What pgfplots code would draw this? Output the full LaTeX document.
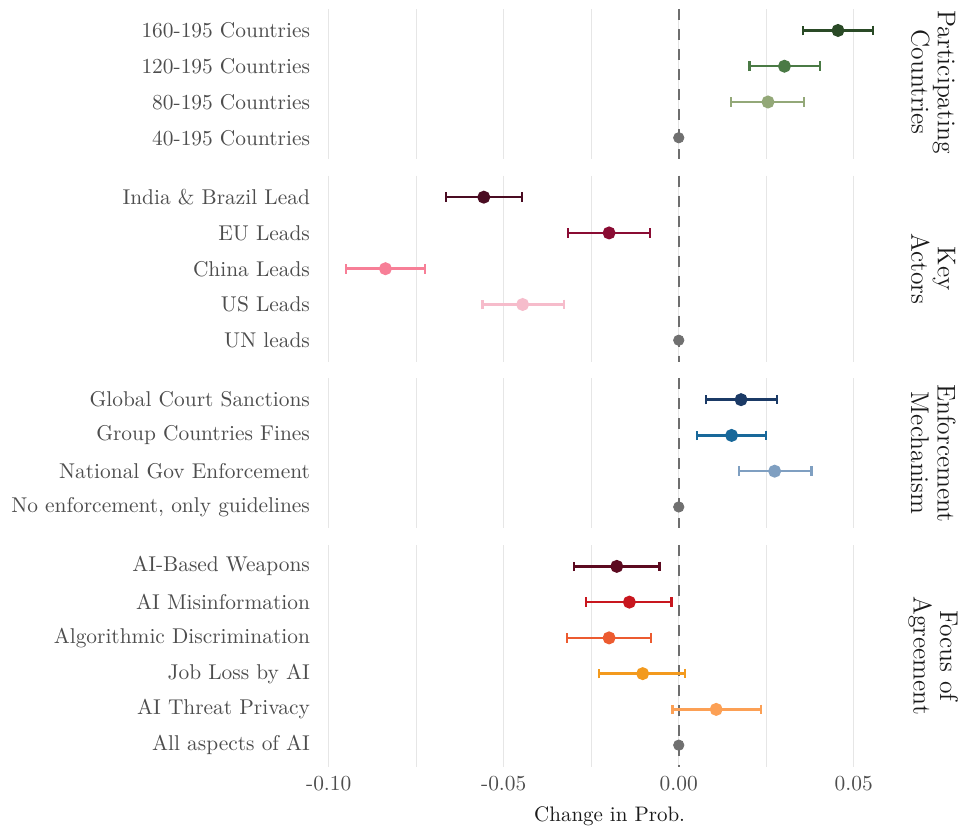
\documentclass[border=0pt]{standalone}
\usepackage{pgfplots}
\pgfplotsset{compat=1.18}
\definecolor{gridc}{HTML}{E6E6E6}
\definecolor{labc}{HTML}{4D4D4D}
\definecolor{stripc}{HTML}{1A1A1A}
\definecolor{refc}{HTML}{707070}
\definecolor{zeroc}{HTML}{6E6E6E}
\definecolor{ga}{HTML}{2A4A26}
\definecolor{gb}{HTML}{4A7A45}
\definecolor{gc}{HTML}{93A878}
\definecolor{ra}{HTML}{4A0C22}
\definecolor{rb}{HTML}{8A0C33}
\definecolor{rc}{HTML}{F77F97}
\definecolor{rd}{HTML}{F6BCCB}
\definecolor{ba}{HTML}{1B3A66}
\definecolor{bb}{HTML}{18689A}
\definecolor{bc}{HTML}{7F9FC1}
\definecolor{oa}{HTML}{5C0A20}
\definecolor{ob}{HTML}{C8161E}
\definecolor{oc}{HTML}{EC5B30}
\definecolor{od}{HTML}{F39A1E}
\definecolor{oe}{HTML}{FCA055}
\tikzset{strip/.style={rotate=-90, align=center, font=\fontsize{12.8}{13.2}\selectfont, text=stripc}}
\pgfplotsset{
  panel/.style={
    scale only axis, width=289.625pt, xmin=-0.1025, xmax=0.063,
    y dir=reverse, axis line style={draw=none},
    major tick length=0pt, minor tick length=0pt,
    xtick={-0.1,-0.05,0,0.05}, minor xtick={-0.075,-0.025,0.025},
    xmajorgrids, xminorgrids,
    major grid style={color=gridc, line width=0.7pt},
    minor grid style={color=gridc, line width=0.7pt},
    xticklabels={},
    yticklabel style={font=\fontsize{10.7}{12}\selectfont, text=labc, xshift=-1.5pt},
    clip=false, anchor=north west,
  },
  pt/.style={color=#1, mark=*, mark size=2.6pt, line width=1.25pt,
    error bars/.cd, x dir=both, x explicit, error mark=|,
    error bar style={line width=1.25pt, color=#1},
    error mark options={mark size=2.4pt, line width=1.1pt, color=#1}},
  refpt/.style={color=refc, mark=*, mark size=2.6pt, only marks},
  zeroline/.style={color=zeroc, line width=1.2pt, dash pattern=on 5.5pt off 4.5pt, forget plot},
}
\begin{document}
\begin{tikzpicture}
\useasboundingbox (0pt,0pt) rectangle (479.5pt,-413pt);
% Panel 1
\begin{axis}[panel, at={(160pt,-4.5pt)}, height=75.1pt, ymin=0.4, ymax=4.6,
  ytick={1,2,3,4},
  yticklabels={160-195 Countries,120-195 Countries,80-195 Countries,40-195 Countries}]
\addplot[zeroline] coordinates {(0,0.4) (0,4.6)};
\addplot[pt=ga] coordinates {(0.0455,1) += (0.0100,0) -= (0.0099,0)};
\addplot[pt=gb] coordinates {(0.0302,2) += (0.0101,0) -= (0.0100,0)};
\addplot[pt=gc] coordinates {(0.0255,3) += (0.0103,0) -= (0.0106,0)};
\addplot[refpt] coordinates {(0,4)};
\node[strip] at ([xshift=17pt,yshift=1pt]rel axis cs:1,0.5) {Participating\\Countries};
\end{axis}
% Panel 2
\begin{axis}[panel, at={(160pt,-87.85pt)}, height=93.0pt, ymin=0.4, ymax=5.6,
  ytick={1,2,3,4,5},
  yticklabels={India \& Brazil Lead,EU Leads,China Leads,US Leads,UN leads}]
\addplot[zeroline] coordinates {(0,0.4) (0,5.6)};
\addplot[pt=ra] coordinates {(-0.0557,1) += (0.0109,0) -= (0.0108,0)};
\addplot[pt=rb] coordinates {(-0.0199,2) += (0.0116,0) -= (0.0118,0)};
\addplot[pt=rc] coordinates {(-0.0838,3) += (0.0112,0) -= (0.0112,0)};
\addplot[pt=rd] coordinates {(-0.0446,4) += (0.0118,0) -= (0.0115,0)};
\addplot[refpt] coordinates {(0,5)};
\node[strip] at ([xshift=17pt]rel axis cs:1,0.5) {Key\\Actors};
\end{axis}
% Panel 3
\begin{axis}[panel, at={(160pt,-189.1pt)}, height=75.1pt, ymin=0.4, ymax=4.6,
  ytick={1,2,3,4},
  yticklabels={Global Court Sanctions,Group Countries Fines,National Gov Enforcement,{No enforcement, only guidelines}}]
\addplot[zeroline] coordinates {(0,0.4) (0,4.6)};
\addplot[pt=ba] coordinates {(0.0178,1) += (0.0103,0) -= (0.0101,0)};
\addplot[pt=bb] coordinates {(0.0151,2) += (0.0098,0) -= (0.0100,0)};
\addplot[pt=bc] coordinates {(0.0274,3) += (0.0105,0) -= (0.0103,0)};
\addplot[refpt] coordinates {(0,4)};
\node[strip] at ([xshift=17pt]rel axis cs:1,0.5) {Enforcement\\Mechanism};
\end{axis}
% Panel 4
\begin{axis}[panel, at={(160pt,-272.45pt)}, height=110.85pt, ymin=0.4, ymax=6.6,
  ytick={1,2,3,4,5,6},
  yticklabels={AI-Based Weapons,AI Misinformation,Algorithmic Discrimination,Job Loss by AI,AI Threat Privacy,All aspects of AI},
  xticklabels={-0.10,-0.05,0.00,0.05},
  xticklabel style={font=\fontsize{10.7}{12}\selectfont, text=labc, yshift=-1.5pt},
  xlabel={Change in Prob.},
  xlabel style={font=\fontsize{10.5}{12}\selectfont, text=stripc, yshift=-0.8pt}]
\addplot[zeroline] coordinates {(0,0.4) (0,6.6)};
\addplot[pt=oa] coordinates {(-0.0177,1) += (0.0122,0) -= (0.0122,0)};
\addplot[pt=ob] coordinates {(-0.0141,2) += (0.0120,0) -= (0.0125,0)};
\addplot[pt=oc] coordinates {(-0.0199,3) += (0.0119,0) -= (0.0120,0)};
\addplot[pt=od] coordinates {(-0.0103,4) += (0.0121,0) -= (0.0124,0)};
\addplot[pt=oe] coordinates {(0.0107,5) += (0.0128,0) -= (0.0125,0)};
\addplot[refpt] coordinates {(0,6)};
\node[strip] at ([xshift=17pt]rel axis cs:1,0.5) {Focus of\\Agreement};
\end{axis}
\end{tikzpicture}
\end{document}
